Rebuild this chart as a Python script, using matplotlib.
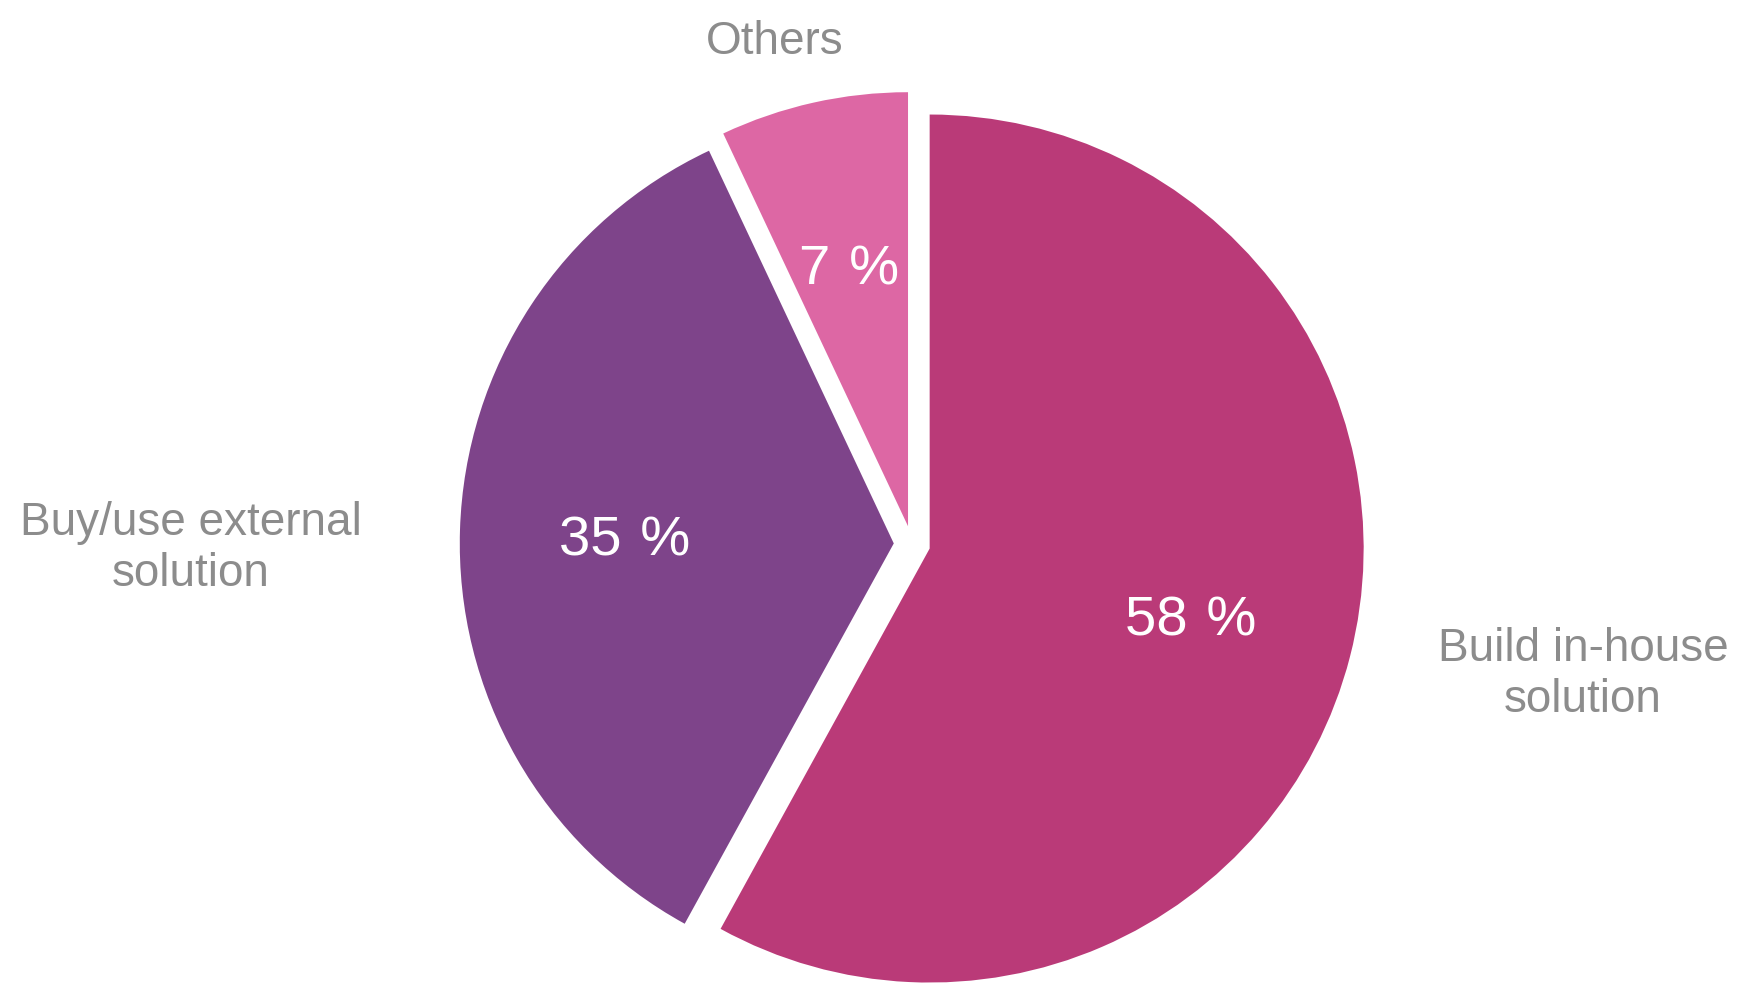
import matplotlib
matplotlib.use("Agg")
import matplotlib.pyplot as plt

# ---- data ----
categories = ["Build in-house\nsolution", "Buy/use external\nsolution", "Others"]
shares = [58, 35, 7]
colors = ["#BA3A78", "#7E448A", "#DD67A4"]

plt.rcParams['font.family'] = ['Liberation Sans', 'DejaVu Sans']

W, H = 1748, 996
fig = plt.figure(figsize=(W / 100, H / 100), dpi=100)
ax = fig.add_axes([0, 0, 1, 1])

wedges, texts, autotexts = ax.pie(
    shares,
    labels=categories,
    colors=colors,
    startangle=90,
    counterclock=False,
    explode=[0.042] * len(shares),
    autopct=lambda p: f"{round(p):d}\u2004%",
    pctdistance=0.62,
    wedgeprops=dict(linewidth=0),
    textprops=dict(fontsize=33, color="#8C8C8C"),
)
for t in autotexts:
    t.set_color("white")
    t.set_fontsize(40.5)
    x, y = t.get_position()
    t.set_position((x, y - 0.015))

# label placement (layout, in pie-radius units)
label_xy = [(1.546, -0.300), (-1.661, -0.010), (-0.316, 1.156)]
for t, (x, y) in zip(texts, label_xy):
    t.set_position((x, y))
    t.set_ha("center")
    t.set_va("center")
    t.set_multialignment("center")

# map pie centre to pixel (912, 544), radius 434 px
cx, cy, R = 912, 544, 434
ax.set_aspect("auto")
ax.set_xlim(-cx / R, (W - cx) / R)
ax.set_ylim(-(H - cy) / R, cy / R)
ax.axis("off")

fig.savefig("out.png", dpi=100, facecolor="white")
